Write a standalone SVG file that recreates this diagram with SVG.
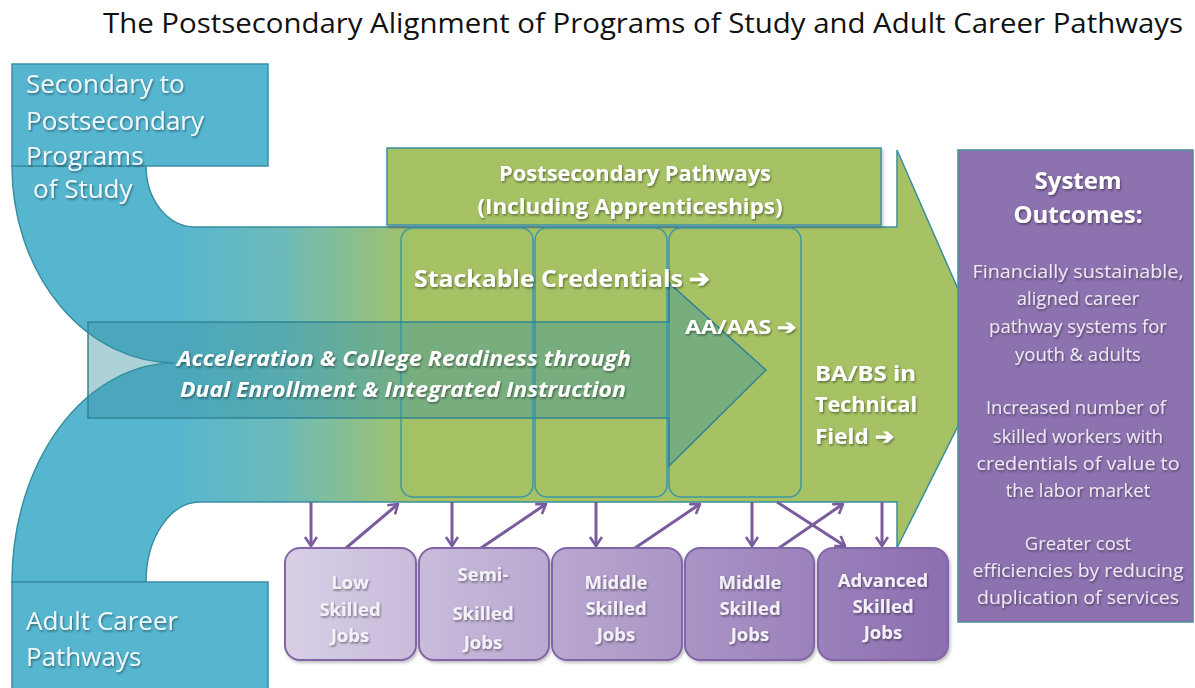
<svg xmlns="http://www.w3.org/2000/svg" width="1195" height="688" viewBox="0 0 1195 688">
<defs>
  <linearGradient id="band" gradientUnits="userSpaceOnUse" x1="175" y1="0" x2="420" y2="0">
    <stop offset="0" stop-color="#56b6d0"/>
    <stop offset="0.45" stop-color="#6dbbb8"/>
    <stop offset="1" stop-color="#a6c265"/>
  </linearGradient>
  <linearGradient id="jobs" gradientUnits="userSpaceOnUse" x1="285" y1="0" x2="948" y2="0">
    <stop offset="0" stop-color="#d8cfe6"/>
    <stop offset="1" stop-color="#8b6eb0"/>
  </linearGradient>
  <filter id="ts" x="-10%" y="-30%" width="120%" height="160%">
    <feDropShadow dx="1" dy="1.5" stdDeviation="1" flood-color="#000" flood-opacity="0.45"/>
  </filter>
  <filter id="bs" x="-10%" y="-10%" width="125%" height="125%">
    <feDropShadow dx="1.5" dy="2" stdDeviation="1.5" flood-color="#000" flood-opacity="0.25"/>
  </filter>
  <marker id="ah" markerUnits="userSpaceOnUse" markerWidth="16" markerHeight="16" refX="10" refY="7" orient="auto">
    <path d="M1,1 L10,7 L1,13" fill="none" stroke="#7a5c9e" stroke-width="2.6" stroke-linejoin="round"/>
  </marker>
  <style>
    text { font-family: "Open Sans", "Liberation Sans", sans-serif; }
    .title { font-size: 28px; fill: #111; }
    .blueTxt { font-size: 26px; fill: #eef7fa; filter: url(#ts); }
    .wb { font-weight: bold; fill: #ffffff; filter: url(#ts); }
    .job { font-size: 18.5px; font-weight: bold; fill: #f4f0f8; filter: url(#ts); text-anchor: middle; }
    .out { font-size: 18.5px; fill: #ece8f2; filter: url(#ts); text-anchor: middle; }
    .col { fill: #a6c265; fill-opacity: 0.3; stroke: #3d98a6; stroke-width: 1.5; }
    .jobbox { fill: url(#jobs); stroke: #8265a6; stroke-width: 2; }
    .conn { stroke: #7a5c9e; stroke-width: 3; fill: none; marker-end: url(#ah); }
  </style>
</defs>

<rect width="1195" height="688" fill="#ffffff"/>

<text id="title" class="title" x="103" y="33" textLength="1080" lengthAdjust="spacingAndGlyphs">The Postsecondary Alignment of Programs of Study and Adult Career Pathways</text>

<!-- merged band + big arrow -->
<g id="band-arrow">
  <path d="M 146 166 A 49 61 0 0 0 195 227 L 897 227 L 897 150 L 990 362 L 897 548 L 897 502 L 200 502 A 54 80 0 0 0 146 582 L 12 582 A 163 219 0 0 1 175 363 A 163 197 0 0 1 12 166 Z" fill="url(#band)" stroke="#3a8ea0" stroke-width="1.5"/>
</g>

<g id="postsecondary">
  <rect x="387" y="148" width="494" height="77" fill="#a6c265" stroke="#3b8fa0" stroke-width="1.5" filter="url(#bs)"/>
  <text class="wb" x="635" y="181" font-size="22" text-anchor="middle" textLength="272" lengthAdjust="spacingAndGlyphs">Postsecondary Pathways</text>
  <text class="wb" x="630" y="214" font-size="22" text-anchor="middle" textLength="305" lengthAdjust="spacingAndGlyphs">(Including Apprenticeships)</text>
</g>

<g id="credential-columns">
  <rect class="col" x="401" y="228" width="132" height="269" rx="12"/>
  <rect class="col" x="535" y="228" width="132" height="269" rx="12"/>
  <rect class="col" x="669" y="228" width="132" height="269" rx="12"/>
</g>

<g id="acceleration">
  <path d="M 88 322 L 669 322 L 669 283 L 766 370 L 669 466 L 669 418 L 88 418 Z" fill="#3a94a3" fill-opacity="0.42" stroke="#2f8494" stroke-width="1.5"/>
  <text class="wb" x="404" y="366" font-size="22" font-style="italic" text-anchor="middle" textLength="454" lengthAdjust="spacingAndGlyphs">Acceleration &amp; College Readiness through</text>
  <text class="wb" x="403" y="397" font-size="22" font-style="italic" text-anchor="middle" textLength="446" lengthAdjust="spacingAndGlyphs">Dual Enrollment &amp; Integrated Instruction</text>
</g>

<g id="stackable">
  <text class="wb" x="414" y="287" font-size="24" textLength="296" lengthAdjust="spacingAndGlyphs">Stackable Credentials ➔</text>
</g>
<g id="aa-aas">
  <text class="wb" x="685" y="334" font-size="20" textLength="112" lengthAdjust="spacingAndGlyphs">AA/AAS ➔</text>
</g>
<g id="ba-bs">
  <text class="wb" x="815" y="381" font-size="22" textLength="101" lengthAdjust="spacingAndGlyphs">BA/BS  in</text>
  <text class="wb" x="815" y="412" font-size="22" textLength="102" lengthAdjust="spacingAndGlyphs">Technical</text>
  <text class="wb" x="815" y="444" font-size="22" textLength="78" lengthAdjust="spacingAndGlyphs">Field ➔</text>
</g>

<g id="secondary">
  <rect x="12" y="64" width="256" height="102" fill="#56b6d0" stroke="#3a8ea3" stroke-width="1.5"/>
  <text class="blueTxt" x="26" y="93">Secondary to</text>
  <text class="blueTxt" x="26" y="130">Postsecondary</text>
  <text class="blueTxt" x="26" y="165">Programs</text>
  <text class="blueTxt" x="33" y="198">of Study</text>
</g>

<g id="adult">
  <rect x="12" y="582" width="256" height="110" fill="#56b6d0" stroke="#3a8ea3" stroke-width="1.5"/>
  <text class="blueTxt" x="26" y="630">Adult Career</text>
  <text class="blueTxt" x="26" y="666">Pathways</text>
</g>

<g id="outcomes">
  <rect x="958" y="150" width="235" height="472" fill="#8d72b0" stroke="#4f8a9c" stroke-width="1.5"/>
  <text class="wb" x="1078" y="189" font-size="24" text-anchor="middle">System</text>
  <text class="wb" x="1078" y="223" font-size="24" text-anchor="middle">Outcomes:</text>
  <text class="out" x="1078" y="278" textLength="211" lengthAdjust="spacingAndGlyphs">Financially sustainable,</text>
  <text class="out" x="1078" y="305">aligned career</text>
  <text class="out" x="1078" y="333">pathway systems for</text>
  <text class="out" x="1078" y="361">youth &amp; adults</text>
  <text class="out" x="1076" y="414">Increased number of</text>
  <text class="out" x="1078" y="443">skilled workers with</text>
  <text class="out" x="1078" y="470" textLength="203" lengthAdjust="spacingAndGlyphs">credentials of value to</text>
  <text class="out" x="1078" y="497">the labor market</text>
  <text class="out" x="1078" y="550">Greater cost</text>
  <text class="out" x="1078" y="577" textLength="211" lengthAdjust="spacingAndGlyphs">efficiencies by reducing</text>
  <text class="out" x="1078" y="604" textLength="202" lengthAdjust="spacingAndGlyphs">duplication of services</text>
</g>

<g id="connectors">
  <line class="conn" x1="311" y1="502" x2="311" y2="546"/>
  <line class="conn" x1="346" y1="548" x2="398" y2="504"/>
  <line class="conn" x1="452" y1="502" x2="452" y2="546"/>
  <line class="conn" x1="481" y1="548" x2="546" y2="504"/>
  <line class="conn" x1="596" y1="502" x2="596" y2="546"/>
  <line class="conn" x1="635" y1="548" x2="700" y2="504"/>
  <line class="conn" x1="752" y1="502" x2="752" y2="546"/>
  <line class="conn" x1="779" y1="548" x2="843" y2="504"/>
  <line class="conn" x1="777" y1="502" x2="845" y2="546"/>
  <line class="conn" x1="882" y1="502" x2="882" y2="546"/>
</g>

<g id="job-low">
  <rect class="jobbox" x="285" y="548" width="131" height="112" rx="15" filter="url(#bs)"/>
  <text class="job" x="350" y="589">Low</text>
  <text class="job" x="350" y="616">Skilled</text>
  <text class="job" x="350" y="642">Jobs</text>
</g>
<g id="job-semi">
  <rect class="jobbox" x="419" y="548" width="130" height="112" rx="15" filter="url(#bs)"/>
  <text class="job" x="483" y="581">Semi-</text>
  <text class="job" x="483" y="620">Skilled</text>
  <text class="job" x="483" y="649">Jobs</text>
</g>
<g id="job-middle-1">
  <rect class="jobbox" x="552" y="548" width="130" height="112" rx="15" filter="url(#bs)"/>
  <text class="job" x="616" y="589">Middle</text>
  <text class="job" x="616" y="615">Skilled</text>
  <text class="job" x="616" y="641">Jobs</text>
</g>
<g id="job-middle-2">
  <rect class="jobbox" x="685" y="548" width="129" height="112" rx="15" filter="url(#bs)"/>
  <text class="job" x="750" y="589">Middle</text>
  <text class="job" x="750" y="615">Skilled</text>
  <text class="job" x="750" y="641">Jobs</text>
</g>
<g id="job-advanced">
  <rect class="jobbox" x="818" y="548" width="130" height="112" rx="15" filter="url(#bs)"/>
  <text class="job" x="883" y="587">Advanced</text>
  <text class="job" x="883" y="613">Skilled</text>
  <text class="job" x="883" y="639">Jobs</text>
</g>
</svg>
